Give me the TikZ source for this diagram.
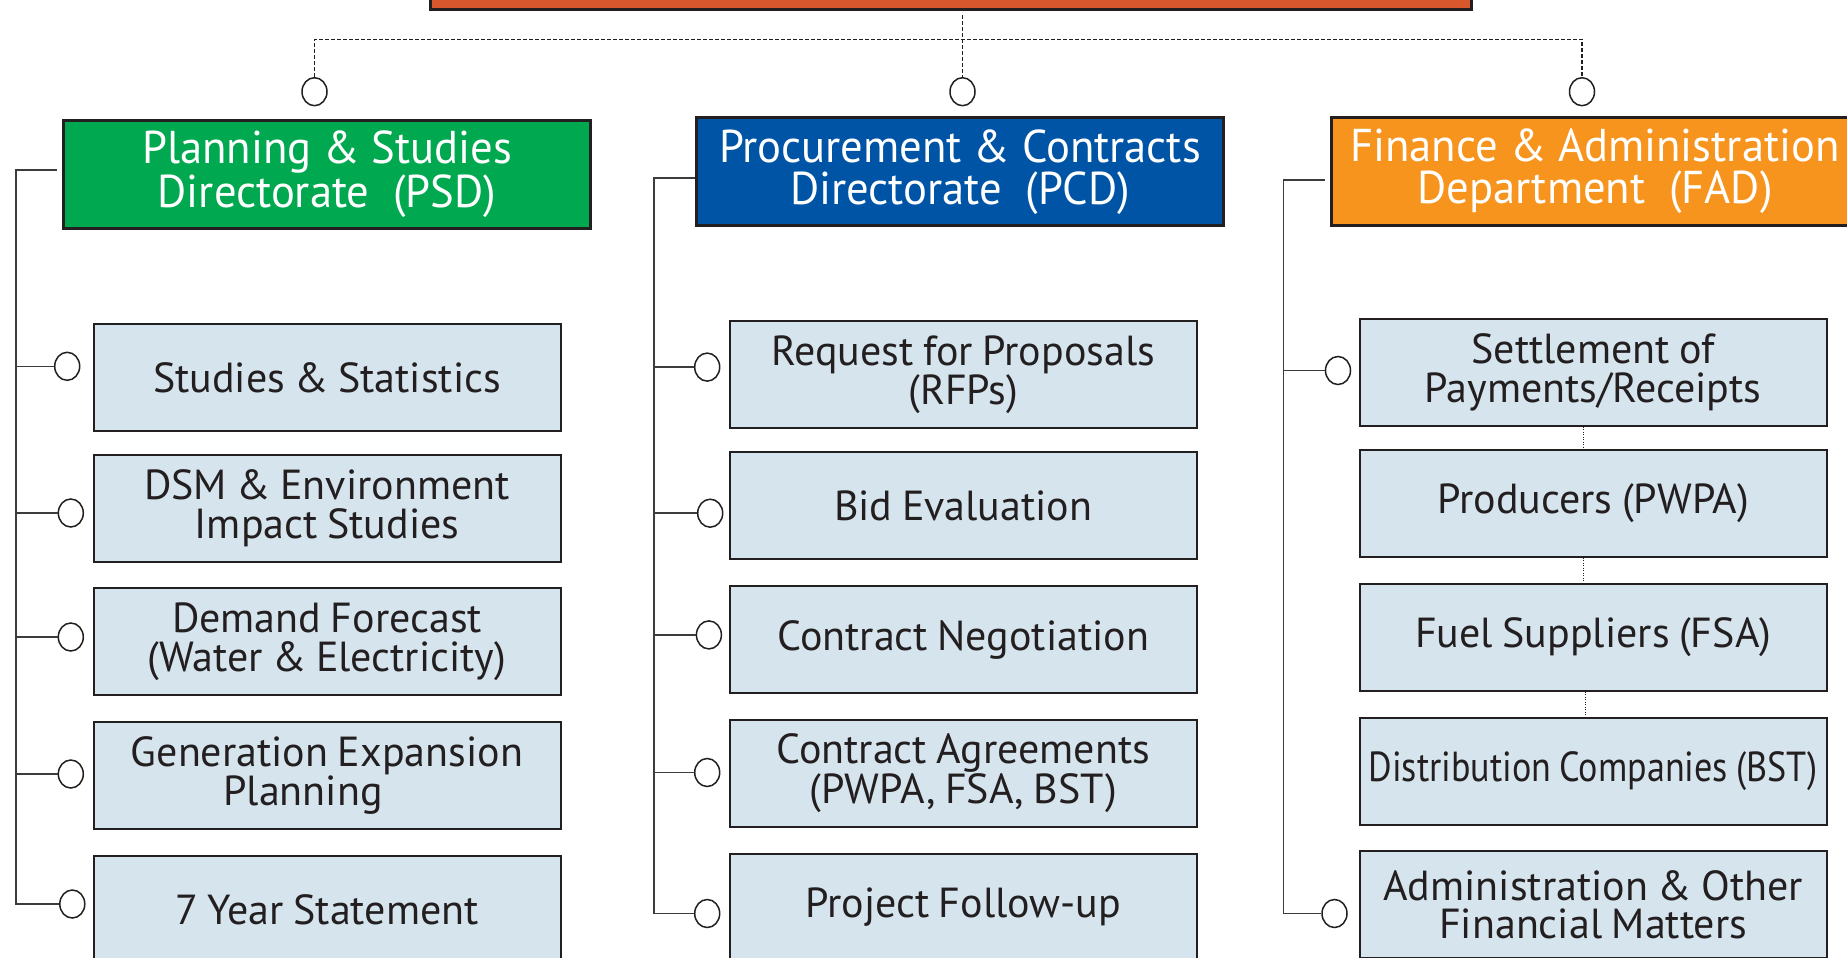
\documentclass[tikz,border=0pt]{standalone}
\usepackage{fontspec}
\setmainfont{PT Sans}[WordSpace=0.85]
\newfontfamily\headfont[FakeStretch=0.97]{PT Sans}
\newfontfamily\narrowfont[FakeStretch=0.86, WordSpace=0.85]{PT Sans}
\usetikzlibrary{shapes.geometric}

\definecolor{topred}{RGB}{217,87,45}
\definecolor{psdgreen}{RGB}{0,169,79}
\definecolor{pcdblue}{RGB}{0,84,166}
\definecolor{fadorange}{RGB}{247,148,29}
\definecolor{unitfill}{RGB}{214,228,237}
\definecolor{boxline}{RGB}{35,31,32}
\definecolor{linegray}{RGB}{60,60,60}

\tikzset{
  head/.style={draw=boxline, line width=3pt, minimum width=527pt, minimum height=108pt,
    inner sep=0pt, align=center, text=white, font=\headfont\fontsize{46}{42}\selectfont},
  unit/.style={draw=boxline, line width=2pt, fill=unitfill, minimum width=467pt, minimum height=107pt,
    inner sep=0pt, align=center, text=boxline, font=\fontsize{42}{38.6}\selectfont},
  knob/.style={ellipse, draw=boxline, line width=1.5pt, fill=white, minimum width=25pt,
    minimum height=28pt, inner sep=0pt},
  spine/.style={draw=linegray, line width=1.5pt},
  dashline/.style={draw=boxline, line width=1.2pt, dash pattern=on 4pt off 2pt},
  dotline/.style={draw=boxline, line width=1.2pt, dash pattern=on 1pt off 1.5pt}
}

\begin{document}
\begin{tikzpicture}[x=1pt, y=-1pt]
  \clip (0,0) rectangle (1847,958);

  % Top box (cut off) and directorates
  \node[draw=boxline, line width=3pt, fill=topred, minimum width=1041pt, minimum height=69pt] (top) at (950.5,-25) {};
  \node[head, fill=psdgreen] (psd) at (327,174) {Planning \& Studies\\Directorate~ (PSD)};
  \node[head, fill=pcdblue] (pcd) at (960,171.7) {Procurement \& Contracts\\Directorate~ (PCD)};
  \node[head, fill=fadorange] (fad) at (1595,171.2) {Finance \& Administration\\Department~ (FAD)};

  \node[knob] (topc1) at (314.5,91.7) {};
  \node[knob] (topc2) at (962.5,91.7) {};
  \node[knob] (topc3) at (1582,91.7) {};

  % PSD units
  \node[unit] (psd1) at (327,377.4) {Studies \& Statistics};
  \node[unit] (psd2) at (327,508.2) {DSM \& Environment\\Impact Studies};
  \node[unit] (psd3) at (327,641.8) {Demand Forecast\\(Water \& Electricity)};
  \node[unit] (psd4) at (327,775.7) {Generation Expansion\\Planning\hspace*{48pt}};
  \node[unit] (psd5) at (327,909.5) {7 Year Statement};

  % PCD units
  \node[unit] (pcd1) at (963.3,374.7) {Request for Proposals\\(RFPs)};
  \node[unit] (pcd2) at (963.3,505.8) {Bid Evaluation};
  \node[unit] (pcd3) at (963.3,639.7) {Contract Negotiation};
  \node[unit] (pcd4) at (963.3,773.3) {Contract Agreements\\(PWPA, FSA, BST)};
  \node[unit] (pcd5) at (963.3,907.4) {Project Follow-up};

  % FAD units
  \node[unit] (fad1) at (1593.2,372.4) {Settlement of\\Payments/Receipts};
  \node[unit] (fad2) at (1593.2,503.3) {Producers (PWPA)};
  \node[unit] (fad3) at (1593.2,637.2) {Fuel Suppliers (FSA)};
  \node[unit, font=\narrowfont\fontsize{42}{38.6}\selectfont] (fad4) at (1593.2,771.1) {Distribution Companies (BST)};
  \node[unit] (fad5) at (1593.2,904.9) {Administration \& Other\\Financial Matters};

  % Knobs
  \node[knob] (psdc1) at (67.2,366.3) {};
  \node[knob] (psdc2) at (70.8,513) {};
  \node[knob] (psdc3) at (70.8,637) {};
  \node[knob] (psdc4) at (70.8,774) {};
  \node[knob] (psdc5) at (72.3,904) {};
  \node[knob] (pcdc1) at (707.2,367.1) {};
  \node[knob] (pcdc2) at (710.2,513.2) {};
  \node[knob] (pcdc3) at (708.9,634.9) {};
  \node[knob] (pcdc4) at (707.2,772.5) {};
  \node[knob] (pcdc5) at (707.2,913.5) {};
  \node[knob] (fadc1) at (1338,370.5) {};
  \node[knob] (fadc5) at (1334.5,913.5) {};

  \coordinate (psdtop) at (16,170);
  \coordinate (pcdtop) at (654,178);
  \coordinate (fadtop) at (1283.5,180);
  \coordinate (dashy) at (0,39.3);

  % Dashed links from the top
  \draw[dashline] ([yshift=-4pt]top.south -| topc2) -- (topc2.north);
  \draw[dashline] (topc1.north) -- (topc1 |- dashy) -- (topc3 |- dashy) -- (topc3.north);

  % Spines
  \draw[spine] ([xshift=-5pt]psd.west |- psdtop) -- (psdtop) -- (psdtop |- psdc5) -- (psdc5);
  \draw[spine] (psdtop |- psdc1) -- (psdc1);
  \draw[spine] (psdtop |- psdc2) -- (psdc2);
  \draw[spine] (psdtop |- psdc3) -- (psdc3);
  \draw[spine] (psdtop |- psdc4) -- (psdc4);

  \draw[spine] (pcd.west |- pcdtop) -- (pcdtop) -- (pcdtop |- pcdc5) -- (pcdc5);
  \draw[spine] (pcdtop |- pcdc1) -- (pcdc1);
  \draw[spine] (pcdtop |- pcdc2) -- (pcdc2);
  \draw[spine] (pcdtop |- pcdc3) -- (pcdc3);
  \draw[spine] (pcdtop |- pcdc4) -- (pcdc4);

  \draw[spine] ([xshift=-5pt]fad.west |- fadtop) -- (fadtop) -- (fadtop |- fadc5) -- (fadc5);
  \draw[spine] (fadtop |- fadc1) -- (fadc1);

  % Dotted links between FAD units
  \draw[dotline] ([xshift=-10pt]fad1.south) -- ([xshift=-10pt]fad2.north);
  \draw[dotline] ([xshift=-10pt]fad2.south) -- ([xshift=-10pt]fad3.north);
  \draw[dotline] ([xshift=-8pt]fad3.south) -- ([xshift=-8pt]fad4.north);
\end{tikzpicture}
\end{document}
